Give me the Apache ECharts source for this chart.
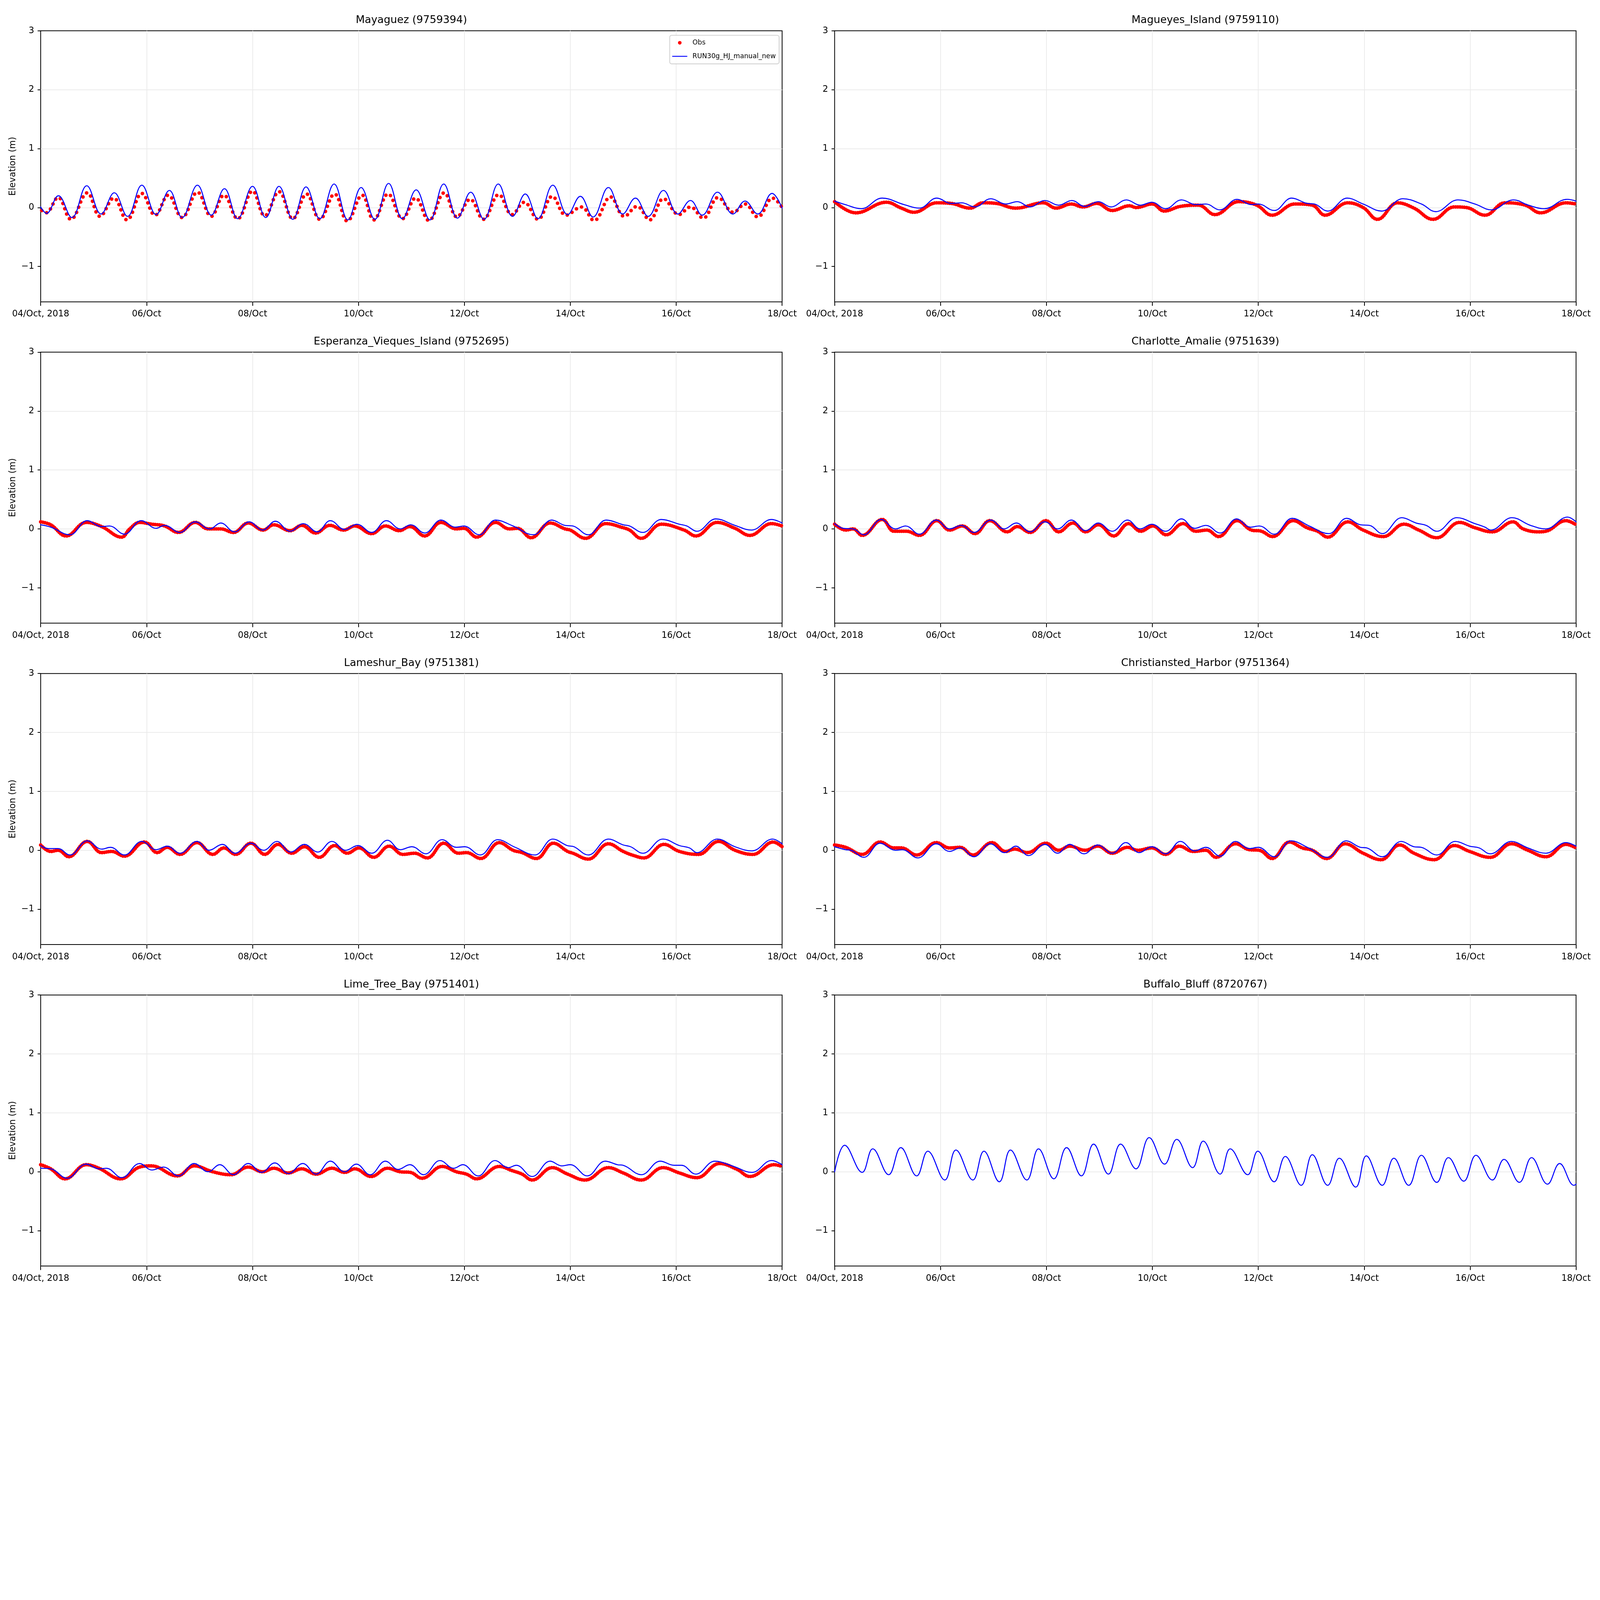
<!DOCTYPE html>
<html>
<head>
<meta charset="utf-8">
<script src="https://cdn.jsdelivr.net/npm/echarts@6.0.0/dist/echarts.min.js"></script>
<style>
html,body{margin:0;padding:0;background:#ffffff;overflow:hidden;}
#chart{width:7650px;height:5850px;}
</style>
</head>
<body>
<div id="chart"></div>
<script>
// ---------- DATA (x = days since 04/Oct/2018 00:00, y = elevation in m) ----------
const xTickDays = [0, 2, 4, 6, 8, 10, 12, 14];
const xTickLabels = ['04/Oct, 2018', '06/Oct', '08/Oct', '10/Oct', '12/Oct', '14/Oct', '16/Oct', '18/Oct'];
const yTickValues = [-1, 0, 1, 2, 3];

const stationTitles = [
  'Mayaguez (9759394)', 'Magueyes_Island (9759110)',
  'Esperanza_Vieques_Island (9752695)', 'Charlotte_Amalie (9751639)',
  'Lameshur_Bay (9751381)', 'Christiansted_Harbor (9751364)',
  'Lime_Tree_Bay (9751401)', 'Buffalo_Bluff (8720767)'
];

const mayaguezObs = [[0.02,-0.05],[0.1,-0.09],[0.33,0.17],[0.57,-0.20],[0.88,0.25],[1.12,-0.15],[1.38,0.16],[1.63,-0.21],[1.91,0.24],[2.16,-0.13],[2.41,0.21],[2.67,-0.17],[2.96,0.26],[3.22,-0.15],[3.46,0.21],[3.72,-0.19],[4.0,0.28],[4.23,-0.14],[4.5,0.27],[4.76,-0.19],[5.02,0.23],[5.27,-0.20],[5.55,0.23],[5.79,-0.23],[6.07,0.21],[6.29,-0.21],[6.56,0.23],[6.83,-0.19],[7.08,0.16],[7.33,-0.22],[7.62,0.25],[7.86,-0.16],[8.11,0.14],[8.36,-0.20],[8.65,0.22],[8.9,-0.12],[9.13,0.09],[9.39,-0.20],[9.66,0.19],[9.92,-0.13],[10.21,0.01],[10.45,-0.22],[10.76,0.18],[11.02,-0.15],[11.26,0.02],[11.5,-0.21],[11.76,0.15],[12.05,-0.12],[12.27,0.01],[12.51,-0.18],[12.79,0.17],[13.08,-0.08],[13.3,0.06],[13.54,-0.16],[13.82,0.16],[14.0,0.0]];
const mayaguezModel = [[0,0.01],[0.11,-0.10],[0.335,0.20],[0.59,-0.17],[0.87,0.37],[1.14,-0.11],[1.39,0.25],[1.64,-0.15],[1.91,0.38],[2.18,-0.12],[2.43,0.29],[2.67,-0.17],[2.96,0.38],[3.22,-0.13],[3.47,0.32],[3.72,-0.19],[4.0,0.36],[4.25,-0.17],[4.5,0.36],[4.76,-0.20],[5.01,0.35],[5.27,-0.19],[5.54,0.40],[5.8,-0.21],[6.05,0.34],[6.31,-0.20],[6.57,0.41],[6.83,-0.19],[7.09,0.30],[7.35,-0.21],[7.61,0.40],[7.87,-0.18],[8.12,0.26],[8.37,-0.20],[8.64,0.40],[8.91,-0.15],[9.15,0.23],[9.39,-0.19],[9.67,0.38],[9.95,-0.12],[10.19,0.19],[10.43,-0.16],[10.72,0.34],[10.99,-0.11],[11.23,0.16],[11.47,-0.15],[11.76,0.29],[12.03,-0.11],[12.27,0.12],[12.49,-0.13],[12.78,0.26],[13.07,-0.11],[13.3,0.11],[13.54,-0.11],[13.81,0.24],[14.0,-0.01]];

const magueyesObs = [[0,0.1],[0.4,-0.09],[0.98,0.09],[1.26,-0.01],[1.5,-0.08],[1.93,0.08],[2.2,0.07],[2.56,-0.01],[2.8,0.08],[3.05,0.07],[3.42,-0.01],[3.94,0.08],[4.18,-0.01],[4.47,0.06],[4.69,0.01],[4.95,0.07],[5.24,-0.05],[5.57,0.03],[5.69,0.0],[6.0,0.06],[6.22,-0.06],[6.53,0.02],[6.87,0.04],[7.18,-0.12],[7.63,0.10],[7.97,0.04],[8.26,-0.13],[8.69,0.06],[9.02,0.04],[9.26,-0.13],[9.69,0.08],[9.98,0.0],[10.25,-0.20],[10.63,0.08],[10.94,-0.01],[11.3,-0.20],[11.7,0.01],[11.93,0.0],[12.28,-0.13],[12.66,0.08],[13.04,0.04],[13.33,-0.09],[13.81,0.08],[14.0,0.06]];
const magueyesModel = [[0,0.11],[0.2,0.05],[0.5,-0.02],[0.9,0.16],[1.31,0.05],[1.6,-0.01],[1.93,0.16],[2.2,0.07],[2.4,0.08],[2.65,0.01],[2.95,0.15],[3.23,0.06],[3.45,0.10],[3.69,0.01],[3.97,0.12],[4.23,0.04],[4.48,0.12],[4.72,0.02],[4.98,0.10],[5.22,0.01],[5.51,0.13],[5.77,0.04],[5.99,0.09],[6.25,-0.02],[6.55,0.13],[6.82,0.05],[7.01,0.06],[7.27,-0.04],[7.6,0.14],[7.87,0.05],[8.0,0.06],[8.3,-0.05],[8.63,0.16],[8.92,0.07],[9.06,0.06],[9.31,-0.06],[9.68,0.16],[9.98,0.06],[10.33,-0.06],[10.73,0.15],[11.08,0.06],[11.35,-0.07],[11.77,0.13],[12.09,0.06],[12.4,-0.04],[12.82,0.13],[13.1,0.04],[13.4,-0.02],[13.83,0.14],[14.0,0.11]];

const esperanzaObs = [[0,0.12],[0.19,0.07],[0.48,-0.12],[0.86,0.11],[1.15,0.04],[1.53,-0.14],[1.68,0.0],[1.87,0.11],[2.1,0.08],[2.34,0.05],[2.6,-0.06],[2.92,0.11],[3.16,0.0],[3.4,0.0],[3.64,-0.06],[3.92,0.10],[4.2,-0.02],[4.4,0.07],[4.71,-0.03],[4.93,0.06],[5.19,-0.07],[5.46,0.06],[5.72,-0.02],[5.93,0.05],[6.25,-0.08],[6.51,0.05],[6.77,-0.03],[6.97,0.04],[7.25,-0.12],[7.56,0.11],[7.85,0.0],[7.99,0.01],[8.23,-0.14],[8.59,0.11],[8.85,0.0],[9.0,0.01],[9.26,-0.15],[9.62,0.10],[9.9,0.0],[10.0,-0.02],[10.29,-0.16],[10.67,0.09],[11.0,0.02],[11.12,-0.02],[11.34,-0.16],[11.72,0.08],[12.15,-0.02],[12.37,-0.12],[12.77,0.11],[13.11,0.01],[13.39,-0.11],[13.8,0.09],[14.0,0.05]];
const esperanzaModel = [[0,0.07],[0.19,0.03],[0.55,-0.10],[0.88,0.14],[1.15,0.04],[1.3,0.05],[1.58,-0.09],[1.9,0.14],[2.18,0.01],[2.34,0.06],[2.63,-0.06],[2.92,0.12],[3.19,0.0],[3.4,0.10],[3.66,-0.05],[3.94,0.12],[4.19,-0.02],[4.43,0.13],[4.71,-0.04],[4.96,0.09],[5.22,-0.05],[5.47,0.14],[5.74,-0.01],[5.97,0.08],[6.25,-0.06],[6.53,0.14],[6.79,0.0],[6.99,0.07],[7.25,-0.07],[7.56,0.15],[7.83,0.03],[7.99,0.05],[8.28,-0.10],[8.59,0.15],[8.92,0.05],[9.3,-0.10],[9.65,0.15],[9.9,0.06],[10.05,0.05],[10.34,-0.10],[10.68,0.15],[11.0,0.07],[11.12,0.05],[11.37,-0.06],[11.72,0.16],[12.06,0.08],[12.2,0.05],[12.39,-0.04],[12.75,0.17],[13.11,0.06],[13.42,-0.02],[13.8,0.16],[14.0,0.10]];

const charlotteObs = [[0,0.08],[0.21,-0.02],[0.35,0.0],[0.52,-0.11],[0.9,0.16],[1.12,-0.04],[1.36,-0.04],[1.6,-0.11],[1.93,0.14],[2.17,-0.02],[2.41,0.05],[2.65,-0.08],[2.93,0.14],[3.26,-0.05],[3.45,0.04],[3.69,-0.06],[3.99,0.14],[4.23,-0.05],[4.5,0.10],[4.74,-0.05],[4.98,0.07],[5.27,-0.12],[5.55,0.09],[5.78,-0.04],[6.01,0.05],[6.26,-0.10],[6.58,0.09],[6.82,-0.04],[7.03,-0.02],[7.25,-0.13],[7.6,0.14],[7.87,-0.02],[8.06,-0.04],[8.27,-0.13],[8.66,0.14],[8.92,0.02],[9.12,-0.04],[9.31,-0.14],[9.69,0.12],[9.98,-0.02],[10.36,-0.13],[10.75,0.08],[11.03,-0.02],[11.37,-0.15],[11.8,0.11],[12.09,0.02],[12.42,-0.05],[12.81,0.12],[13.0,0.0],[13.29,-0.05],[13.43,-0.04],[13.81,0.14],[14.0,0.07]];
const charlotteModel = [[0,0.09],[0.16,0.01],[0.35,0.0],[0.55,-0.10],[0.88,0.16],[1.15,0.0],[1.34,0.05],[1.6,-0.09],[1.92,0.15],[2.17,0.0],[2.39,0.06],[2.63,-0.06],[2.95,0.15],[3.2,0.0],[3.43,0.10],[3.69,-0.05],[3.97,0.12],[4.21,0.0],[4.47,0.15],[4.74,-0.03],[4.98,0.10],[5.24,-0.04],[5.53,0.15],[5.77,0.0],[5.99,0.08],[6.25,-0.04],[6.55,0.17],[6.8,0.01],[7.01,0.06],[7.28,-0.07],[7.59,0.17],[7.85,0.03],[8.02,0.05],[8.3,-0.09],[8.64,0.18],[8.96,0.05],[9.33,-0.08],[9.67,0.18],[9.93,0.07],[10.1,0.06],[10.34,-0.08],[10.71,0.19],[10.98,0.10],[11.17,0.06],[11.37,-0.04],[11.75,0.19],[12.09,0.09],[12.28,0.03],[12.39,-0.02],[12.79,0.19],[13.14,0.06],[13.43,0.0],[13.84,0.20],[14.0,0.12]];

const lameshurObs = [[0,0.09],[0.19,-0.02],[0.33,0.0],[0.53,-0.11],[0.88,0.15],[1.15,-0.04],[1.34,-0.02],[1.58,-0.10],[1.96,0.14],[2.2,-0.04],[2.39,0.05],[2.63,-0.07],[2.95,0.13],[3.25,-0.07],[3.46,0.04],[3.68,-0.07],[3.97,0.12],[4.23,-0.07],[4.48,0.10],[4.74,-0.05],[4.98,0.06],[5.26,-0.12],[5.55,0.08],[5.79,-0.05],[6.01,0.04],[6.29,-0.12],[6.58,0.07],[6.84,-0.07],[7.06,-0.05],[7.3,-0.13],[7.61,0.12],[7.89,-0.05],[8.04,-0.04],[8.31,-0.14],[8.66,0.13],[8.92,0.0],[9.09,-0.04],[9.36,-0.14],[9.68,0.12],[9.95,-0.02],[10.05,-0.05],[10.34,-0.15],[10.72,0.11],[11.0,-0.02],[11.2,-0.09],[11.39,-0.13],[11.77,0.10],[12.06,-0.02],[12.42,-0.07],[12.8,0.15],[13.11,0.0],[13.45,-0.07],[13.83,0.14],[14.0,0.06]];
const lameshurModel = [[0,0.08],[0.14,0.03],[0.33,0.03],[0.55,-0.08],[0.88,0.16],[1.15,0.02],[1.32,0.05],[1.58,-0.08],[1.91,0.15],[2.18,0.01],[2.39,0.07],[2.63,-0.05],[2.95,0.15],[3.18,0.0],[3.43,0.10],[3.67,-0.05],[3.97,0.12],[4.21,0.0],[4.46,0.15],[4.72,-0.03],[4.98,0.10],[5.23,-0.03],[5.5,0.15],[5.76,0.0],[5.99,0.08],[6.25,-0.05],[6.55,0.17],[6.79,0.01],[7.01,0.06],[7.27,-0.06],[7.58,0.18],[7.85,0.05],[8.01,0.06],[8.3,-0.08],[8.63,0.18],[8.96,0.05],[9.33,-0.08],[9.67,0.19],[9.94,0.08],[10.07,0.06],[10.34,-0.08],[10.72,0.19],[11.0,0.09],[11.14,0.06],[11.37,-0.05],[11.75,0.19],[12.06,0.08],[12.25,0.04],[12.39,-0.04],[12.78,0.19],[13.11,0.06],[13.43,-0.01],[13.82,0.19],[14.0,0.11]];

const christianstedObs = [[0,0.09],[0.21,0.05],[0.52,-0.07],[0.86,0.14],[1.12,0.04],[1.26,0.04],[1.55,-0.08],[1.92,0.13],[2.17,0.04],[2.37,0.05],[2.61,-0.08],[2.97,0.13],[3.23,-0.02],[3.4,0.02],[3.64,-0.04],[3.99,0.12],[4.23,0.0],[4.44,0.07],[4.73,0.0],[4.97,0.07],[5.24,-0.05],[5.53,0.05],[5.72,0.0],[5.99,0.04],[6.25,-0.07],[6.51,0.07],[6.77,-0.02],[7.01,0.0],[7.2,-0.12],[7.57,0.11],[7.83,0.01],[8.02,0.0],[8.26,-0.14],[8.59,0.14],[8.83,0.04],[9.02,0.0],[9.29,-0.14],[9.64,0.11],[9.98,-0.05],[10.32,-0.16],[10.67,0.09],[10.94,-0.05],[11.32,-0.16],[11.7,0.08],[11.99,-0.02],[12.38,-0.12],[12.78,0.11],[13.09,0.0],[13.43,-0.11],[13.81,0.10],[14.0,0.04]];
const christianstedModel = [[0,0.06],[0.21,0.01],[0.31,0.0],[0.55,-0.12],[0.86,0.12],[1.15,0.0],[1.28,0.01],[1.57,-0.13],[1.92,0.11],[2.17,-0.02],[2.37,0.04],[2.63,-0.11],[2.94,0.11],[3.21,-0.04],[3.42,0.07],[3.66,-0.09],[3.97,0.10],[4.21,-0.05],[4.44,0.10],[4.71,-0.06],[4.97,0.09],[5.24,-0.05],[5.5,0.13],[5.75,-0.04],[5.99,0.06],[6.25,-0.06],[6.53,0.15],[6.8,-0.01],[7.01,0.05],[7.28,-0.10],[7.57,0.15],[7.83,0.03],[8.0,0.05],[8.3,-0.11],[8.62,0.16],[8.95,0.04],[9.31,-0.12],[9.66,0.16],[9.93,0.05],[10.05,0.04],[10.34,-0.11],[10.7,0.15],[10.94,0.06],[11.08,0.05],[11.37,-0.08],[11.72,0.15],[11.99,0.07],[12.17,0.04],[12.38,-0.06],[12.78,0.15],[13.09,0.04],[13.43,-0.05],[13.81,0.13],[14.0,0.07]];

const limeTreeObs = [[0,0.12],[0.19,0.05],[0.46,-0.12],[0.86,0.12],[1.1,0.06],[1.51,-0.12],[1.87,0.08],[2.09,0.10],[2.58,-0.07],[2.9,0.10],[3.25,0.0],[3.59,-0.05],[3.92,0.08],[4.19,0.0],[4.4,0.06],[4.67,-0.02],[4.93,0.05],[5.2,-0.04],[5.5,0.06],[5.74,-0.01],[5.93,0.05],[6.24,-0.08],[6.55,0.06],[6.79,0.0],[6.98,-0.01],[7.2,-0.11],[7.58,0.09],[7.85,0.0],[8.04,-0.04],[8.23,-0.12],[8.66,0.09],[8.9,0.02],[9.09,-0.04],[9.28,-0.14],[9.66,0.07],[9.95,-0.04],[10.28,-0.14],[10.72,0.07],[11.0,-0.02],[11.34,-0.14],[11.75,0.07],[12.06,-0.02],[12.39,-0.10],[12.82,0.14],[13.15,0.04],[13.39,-0.08],[13.85,0.12],[14.0,0.09]];
const limeTreeModel = [[0,0.06],[0.19,0.05],[0.5,-0.11],[0.86,0.13],[1.1,0.05],[1.24,0.06],[1.53,-0.10],[1.87,0.14],[2.1,0.03],[2.32,0.08],[2.6,-0.07],[2.9,0.14],[3.16,0.0],[3.38,0.12],[3.64,-0.05],[3.92,0.14],[4.17,-0.01],[4.42,0.15],[4.68,-0.03],[4.95,0.14],[5.2,-0.04],[5.47,0.18],[5.74,0.0],[5.96,0.13],[6.22,-0.05],[6.51,0.18],[6.75,0.04],[6.97,0.12],[7.23,-0.05],[7.54,0.19],[7.8,0.06],[7.97,0.12],[8.26,-0.07],[8.58,0.19],[8.83,0.07],[8.98,0.11],[9.28,-0.08],[9.62,0.18],[9.84,0.10],[10.0,0.12],[10.32,-0.07],[10.66,0.18],[10.89,0.12],[11.0,0.11],[11.34,-0.05],[11.7,0.18],[11.96,0.11],[12.1,0.11],[12.37,-0.04],[12.73,0.18],[13.06,0.10],[13.43,-0.01],[13.8,0.19],[14.0,0.12]];

const buffaloBluffModel = [[0,0.0],[0.19,0.45],[0.52,-0.01],[0.72,0.39],[1.02,-0.05],[1.25,0.41],[1.55,-0.07],[1.76,0.35],[2.08,-0.14],[2.29,0.37],[2.61,-0.14],[2.82,0.35],[3.11,-0.17],[3.32,0.37],[3.63,-0.14],[3.85,0.39],[4.14,-0.12],[4.38,0.41],[4.66,-0.07],[4.89,0.47],[5.17,-0.04],[5.4,0.47],[5.69,0.05],[5.94,0.58],[6.23,0.13],[6.46,0.55],[6.76,0.07],[6.96,0.52],[7.28,-0.04],[7.47,0.39],[7.8,-0.05],[7.99,0.35],[8.3,-0.17],[8.51,0.26],[8.81,-0.23],[9.02,0.29],[9.31,-0.23],[9.53,0.23],[9.84,-0.26],[10.04,0.27],[10.34,-0.23],[10.56,0.23],[10.84,-0.23],[11.08,0.28],[11.37,-0.18],[11.59,0.24],[11.88,-0.16],[12.11,0.28],[12.42,-0.14],[12.64,0.21],[12.93,-0.18],[13.16,0.24],[13.46,-0.21],[13.69,0.14],[13.96,-0.23],[14.0,-0.21]];

const obsSeriesData = [mayaguezObs, magueyesObs, esperanzaObs, charlotteObs, lameshurObs, christianstedObs, limeTreeObs, null];
const modelSeriesData = [mayaguezModel, magueyesModel, esperanzaModel, charlotteModel, lameshurModel, christianstedModel, limeTreeModel, buffaloBluffModel];

// ---------- LAYOUT (reference pixel units, mapped onto the actual window) ----------
const REF_W = 7650, REF_H = 5850;
const vw = window.innerWidth || REF_W, vh = window.innerHeight || REF_H;
const SX = vw / REF_W, SY = vh / REF_H, SW = Math.sqrt(SX * SY);
const hx = v => v * SX;   // horizontal lengths
const vy = v => v * SY;   // vertical lengths
const ft = v => v * SX;   // font sizes (keep horizontal text extents proportional)
const sw = v => v * SW;   // stroke widths

const FONT = '"DejaVu Sans", "Liberation Sans", sans-serif';
const colLeft = [194.5, 3990.5];
const plotW = 3545;
const rowTop = [112.5, 1287.5, 2462.5, 3638];
const plotH = 991;
const OBS_NAME = 'Obs';
const MODEL_NAME = 'RUN30g_HJ_manual_new';

const grids = [], xAxes = [], yAxes = [], series = [], graphics = [];
const tickStyle = {color: '#000', width: sw(3.3)};
const gridLineStyle = {color: '#ebebeb', width: sw(3)};

for (let i = 0; i < 8; i++) {
  const col = i % 2, row = Math.floor(i / 2);
  const left = colLeft[col], top = rowTop[row];
  grids.push({left: hx(left), top: vy(top), width: hx(plotW), height: vy(plotH), show: true,
    borderColor: '#000000', borderWidth: sw(3.3), backgroundColor: 'rgba(0,0,0,0)'});
  xAxes.push({
    gridIndex: i, type: 'value', min: 0, max: 14, interval: 2,
    axisLine: {show: false, onZero: false},
    axisTick: {show: true, inside: false, length: vy(14.6), lineStyle: tickStyle},
    axisLabel: {show: true, margin: vy(30), color: '#000', fontSize: ft(42), fontFamily: FONT,
      formatter: function (v) { const k = xTickDays.indexOf(Math.round(v)); return k >= 0 ? xTickLabels[k] : ''; }},
    splitLine: {show: true, showMinLine: false, showMaxLine: false, lineStyle: gridLineStyle}
  });
  yAxes.push({
    gridIndex: i, type: 'value', min: -1.6, max: 3,
    axisLine: {show: false, onZero: false},
    axisTick: {show: true, inside: false, length: hx(14.6), customValues: yTickValues, lineStyle: tickStyle},
    axisLabel: {show: true, margin: hx(31), color: '#000', fontSize: ft(42), fontFamily: FONT, customValues: yTickValues,
      formatter: function (v) { return (v < 0 ? '\u2212' : '') + Math.abs(v); }},
    splitLine: {show: true, showMinLine: false, showMaxLine: false, lineStyle: gridLineStyle}
  });
  if (obsSeriesData[i]) {
    const dotted = (i === 0);
    series.push({
      type: 'line', name: OBS_NAME, xAxisIndex: i, yAxisIndex: i,
      data: obsSeriesData[i], smooth: 0.4, symbol: 'none', showSymbol: false,
      itemStyle: {color: '#ff0000', borderWidth: 0},
      lineStyle: {color: '#ff0000', width: sw(15), type: dotted ? [0.1, sw(23)] : [0.1, sw(9)], cap: 'round', join: 'round'},
      silent: true, animation: false, z: 2
    });
  }
  series.push({
    type: 'line', name: MODEL_NAME, xAxisIndex: i, yAxisIndex: i,
    data: modelSeriesData[i], smooth: 0.4, symbol: 'none', showSymbol: false,
    itemStyle: {color: '#0000ff'},
    lineStyle: {color: '#0000ff', width: sw(4.2), cap: 'round', join: 'round'},
    silent: true, animation: false, z: 3
  });
  graphics.push({
    type: 'text', x: hx(left + plotW / 2), y: vy(top - 38),
    style: {text: stationTitles[i], font: ft(50) + 'px ' + FONT, fill: '#000',
      align: 'center', verticalAlign: 'middle', textAlign: 'center', textVerticalAlign: 'middle'}
  });
  if (col === 0) {
    graphics.push({
      type: 'text', x: hx(62), y: vy(top + plotH / 2), rotation: Math.PI / 2,
      style: {text: 'Elevation (m)', font: ft(42) + 'px ' + FONT, fill: '#000',
        align: 'center', verticalAlign: 'middle', textAlign: 'center', textVerticalAlign: 'middle'}
    });
  }
}

const el = document.getElementById('chart');
el.style.width = vw + 'px';
el.style.height = vh + 'px';
const chart = echarts.init(el, null, {renderer: 'canvas', width: vw, height: vh});
chart.setOption({
  backgroundColor: '#ffffff',
  animation: false,
  grid: grids,
  xAxis: xAxes,
  yAxis: yAxes,
  series: series,
  graphic: graphics,
  legend: {
    show: true, orient: 'vertical', right: hx(REF_W - 3725), top: vy(129),
    data: [
      {name: OBS_NAME, icon: 'circle'},
      {name: MODEL_NAME, icon: 'path://M0 0H72V4.2H0Z', itemStyle: {color: '#0000ff'}}
    ],
    itemWidth: hx(72), itemHeight: sw(15), itemGap: Math.max(vy(49.5) - ft(36), 2), symbolKeepAspect: true,
    padding: [Math.max(vy(27.5) - ft(18), 2), hx(16), Math.max(vy(27.5) - ft(18), 2), hx(12)],
    borderColor: '#cccccc', borderWidth: sw(3), borderRadius: sw(8),
    backgroundColor: 'rgba(255,255,255,0.8)',
    selectedMode: false,
    textStyle: {fontSize: ft(32), fontFamily: FONT, color: '#000', lineHeight: ft(36), padding: [0, 0, 0, Math.max(hx(25) - 5, 0)]}
  }
});
</script>
</body>
</html>
